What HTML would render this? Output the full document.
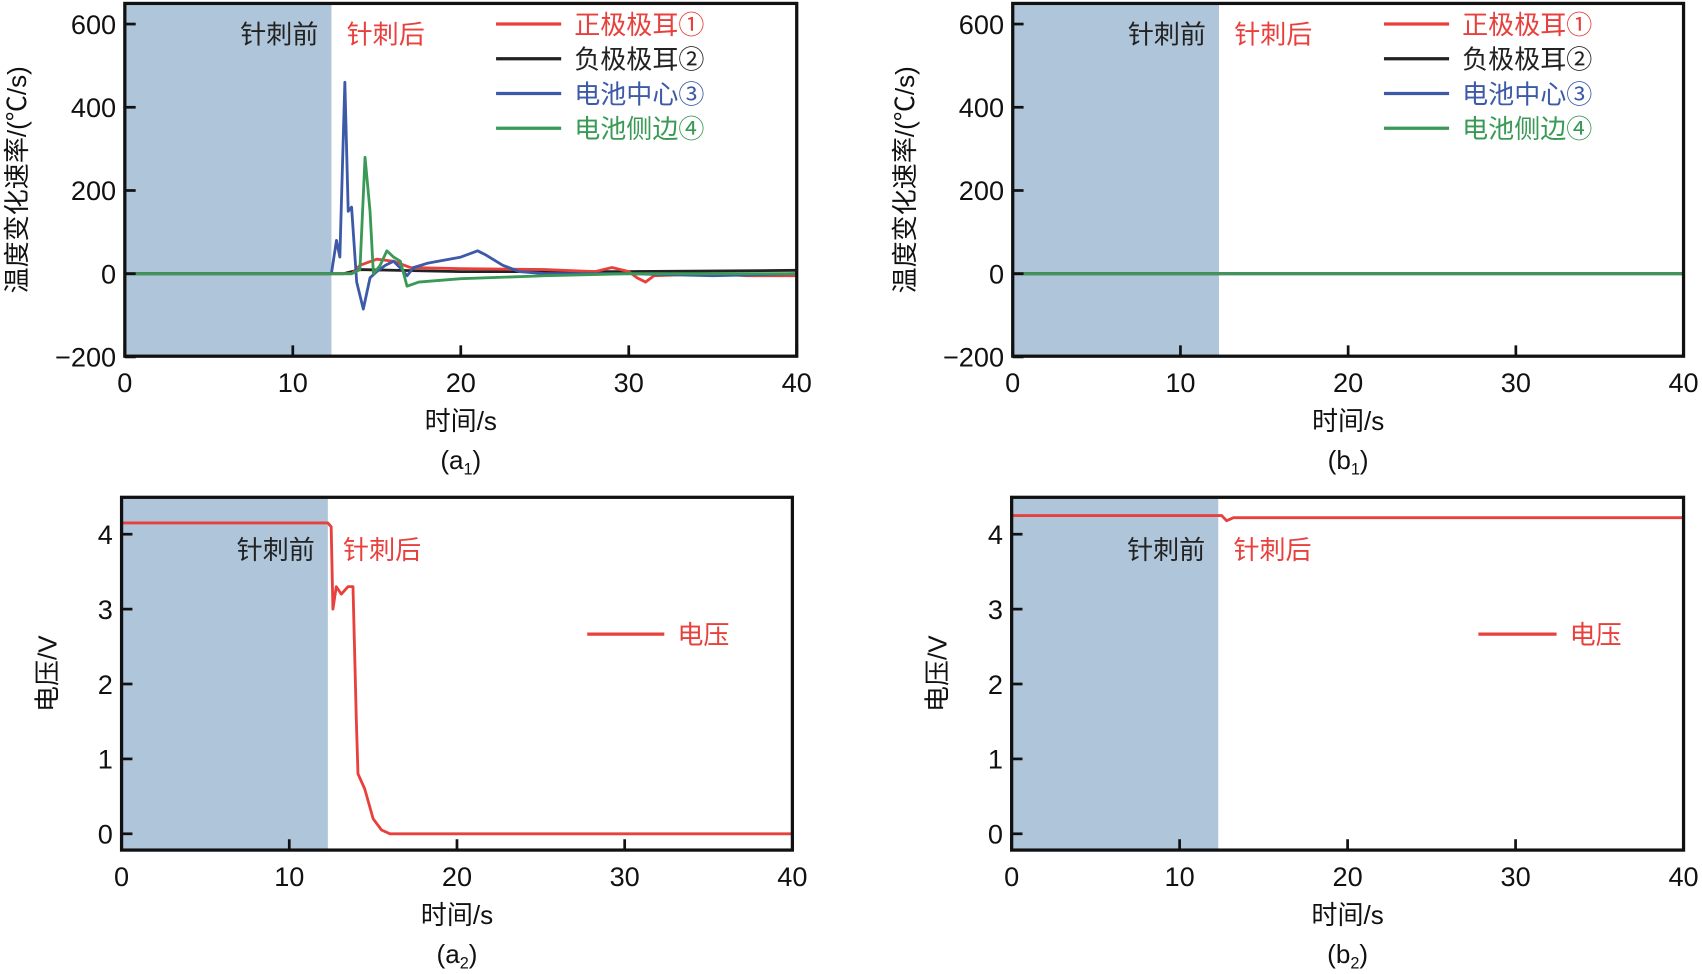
<!DOCTYPE html>
<html><head><meta charset="utf-8"><style>
html,body{margin:0;padding:0;background:#fff}
svg{display:block}
text{font-family:"Liberation Sans","Noto Sans CJK SC",sans-serif}
</style></head><body>
<svg id="fig" width="1702" height="974" viewBox="0 0 1568 897" xmlns="http://www.w3.org/2000/svg"></svg>
<script>
const xTicks=[0,10,20,30,40];
const tTicks=[-200,0,200,400,600];
const vTicks=[0,1,2,3,4];
const shadeEnd=12.3;
const a1BlueT=[0,12.3,12.6,12.8,13.1,13.3,13.5,13.8,14.2,14.6,15,15.5,16,16.5,16.8,17.2,18,20,21,21.5,22.5,23.5,25,30,35,40];
const a1BlueV=[0,0,80,40,460,150,160,-20,-85,-10,5,20,30,10,-5,15,25,40,55,45,20,5,0,0,-5,0];
const a1GreenT=[0,13.5,14.0,14.3,14.6,14.8,15.2,15.6,16,16.4,16.8,17.5,20,25,30,40];
const a1GreenV=[0,0,10,280,150,0,20,55,40,30,-30,-20,-12,-5,0,0];
const a1RedT=[0,13.5,14,15,16,17,20,25,28,29,30,30.5,31,31.5,35,37,40];
const a1RedV=[0,0,20,35,30,15,12,10,5,15,5,-10,-20,-5,0,-5,-5];
const a1BlackT=[0,13,14,20,30,40];
const a1BlackV=[0,0,10,5,5,8];
const b1T=[0,40];
const b1V=[0,0];
const a2T=[0,12.3,12.5,12.6,12.8,13.1,13.5,13.8,14.0,14.1,14.5,15,15.5,16,40];
const a2V=[4.15,4.15,4.1,3.0,3.3,3.2,3.3,3.3,1.5,0.8,0.6,0.2,0.05,0,0];
const b2T=[0,12.5,12.8,13.2,40];
const b2V=[4.25,4.25,4.18,4.22,4.22];

const svg=document.getElementById('fig');
const NS='http://www.w3.org/2000/svg';
function el(tag,attrs,parent){const e=document.createElementNS(NS,tag);for(const k in attrs)e.setAttribute(k,attrs[k]);(parent||svg).appendChild(e);return e;}
function txt(s,x,y,size,fill,anchor,parent){const t=el('text',{x:x,y:y,'font-size':size,fill:fill,'text-anchor':anchor||'start'},parent);t.textContent=s;return t;}

const RED='#e8403c',BLACK='#222',BLUE='#3d5aa8',GREEN='#3a9a55',SHADE='#afc5da';

function panel(cfg){
  const g=el('g',{});
  
  
  const X=v=>cfg.x0+(v-0)/40*(cfg.x1-cfg.x0);
  const Y=v=>cfg.yA+(v-cfg.vA)/(cfg.vB-cfg.vA)*(cfg.yB-cfg.yA);
  const sh=el('rect',{x:cfg.x0,y:cfg.top,width:X(shadeEnd)-cfg.x0,height:cfg.bot-cfg.top,fill:SHADE},g);
  
  
  // series
  cfg.series.forEach(s=>{
    const d=s.t.map((t,i)=>(i?'L':'M')+X(t).toFixed(1)+','+Y(s.v[i]).toFixed(1)).join('');
    const p=el('path',{d:d,fill:'none',stroke:s.c,'stroke-width':2.6,'stroke-linejoin':'round'},g);
    
    
  });
  const fr=el('rect',{x:cfg.x0,y:cfg.top,width:cfg.x1-cfg.x0,height:cfg.bot-cfg.top,fill:'none',stroke:'#111','stroke-width':3},g);
  
  
  xTicks.forEach(v=>{
    el('line',{x1:X(v),x2:X(v),y1:cfg.bot,y2:cfg.bot-10,stroke:'#111','stroke-width':2.5},g);
    const t=txt(String(v),X(v),cfg.bot+33,25,'#111','middle',g);
    
    
  });
  cfg.yTicks.forEach(v=>{
    el('line',{x1:cfg.x0,x2:cfg.x0+10,y1:Y(v),y2:Y(v),stroke:'#111','stroke-width':2.5},g);
    const t=txt((v<0?'\u2212'+(-v):String(v)),cfg.x0-8,Y(v)+9,25,'#111','end',g);
    
    
  });
  const xt=txt('时间/s',(cfg.x0+cfg.x1)/2,cfg.bot+68,24,'#111','middle',g);
  
  
  const cap=el('text',{x:(cfg.x0+cfg.x1)/2,y:cfg.bot+104,'font-size':24,fill:'#111','text-anchor':'middle'},g);
  cap.innerHTML='('+cfg.cap+'<tspan font-size="15" dy="5">'+cfg.sub+'</tspan><tspan dy="-5">)</tspan>';
  
  
  const yt=txt(cfg.ytitle,0,0,24,'#111','middle',g);
  yt.setAttribute('transform','translate('+(cfg.ytx)+','+((cfg.top+cfg.bot)/2)+') rotate(-90)');
  
  
  const pre=txt('针刺前',X(shadeEnd)-12,cfg.labY,24,'#222','end',g);
  
  
  const post=txt('针刺后',X(shadeEnd)+14,cfg.labY,24,RED,'start',g);
  
  
  cfg.legend.forEach((L,i)=>{
    const y=L.y;
    const ln=el('line',{x1:L.x,x2:L.x+L.w,y1:y,y2:y,stroke:L.c,'stroke-width':3},g);
    
    
    const t=txt(L.s,L.x+L.w+12,y+9,24,L.c,'start',g);
    
    
  });
}
function tempLegend(x){return [
 {s:'正极极耳①',c:RED,x:x,w:60,y:22},
 {s:'负极极耳②',c:BLACK,x:x,w:60,y:54},
 {s:'电池中心③',c:BLUE,x:x,w:60,y:86},
 {s:'电池侧边④',c:GREEN,x:x,w:60,y:118}];}
panel({name:'panel-a1',x0:115,x1:734,top:3,bot:328,yA:252,vA:0,yB:22,vB:600,yTicks:tTicks,cap:'a',sub:'1',
  ytitle:'温度变化速率/(℃/s)',ytx:24,labY:40,
  series:[{t:a1BlackT,v:a1BlackV,c:BLACK,n:'negative-tab-line'},{t:a1RedT,v:a1RedV,c:RED,n:'positive-tab-line'},
          {t:a1BlueT,v:a1BlueV,c:BLUE,n:'center-line'},{t:a1GreenT,v:a1GreenV,c:GREEN,n:'side-line'}],
  legend:tempLegend(457)});
panel({name:'panel-b1',x0:933,x1:1551,top:3,bot:328,yA:252,vA:0,yB:22,vB:600,yTicks:tTicks,cap:'b',sub:'1',
  ytitle:'温度变化速率/(℃/s)',ytx:842,labY:40,
  series:[{t:b1T,v:b1V,c:BLACK,n:'negative-tab-line'},{t:b1T,v:b1V,c:RED,n:'positive-tab-line'},
          {t:b1T,v:b1V,c:BLUE,n:'center-line'},{t:b1T,v:b1V,c:GREEN,n:'side-line'}],
  legend:tempLegend(1275)});
panel({name:'panel-a2',x0:112,x1:730,top:458,bot:783,yA:768,vA:0,yB:492,vB:4,yTicks:vTicks,cap:'a',sub:'2',
  ytitle:'电压/V',ytx:52,labY:515,
  series:[{t:a2T,v:a2V,c:RED,n:'voltage-line'}],
  legend:[{s:'电压',c:RED,x:541,w:71,y:584}]});
panel({name:'panel-b2',x0:932,x1:1551,top:458,bot:783,yA:768,vA:0,yB:492,vB:4,yTicks:vTicks,cap:'b',sub:'2',
  ytitle:'电压/V',ytx:872,labY:515,
  series:[{t:b2T,v:b2V,c:RED,n:'voltage-line'}],
  legend:[{s:'电压',c:RED,x:1362,w:72,y:584}]});
</script>
</body></html>
